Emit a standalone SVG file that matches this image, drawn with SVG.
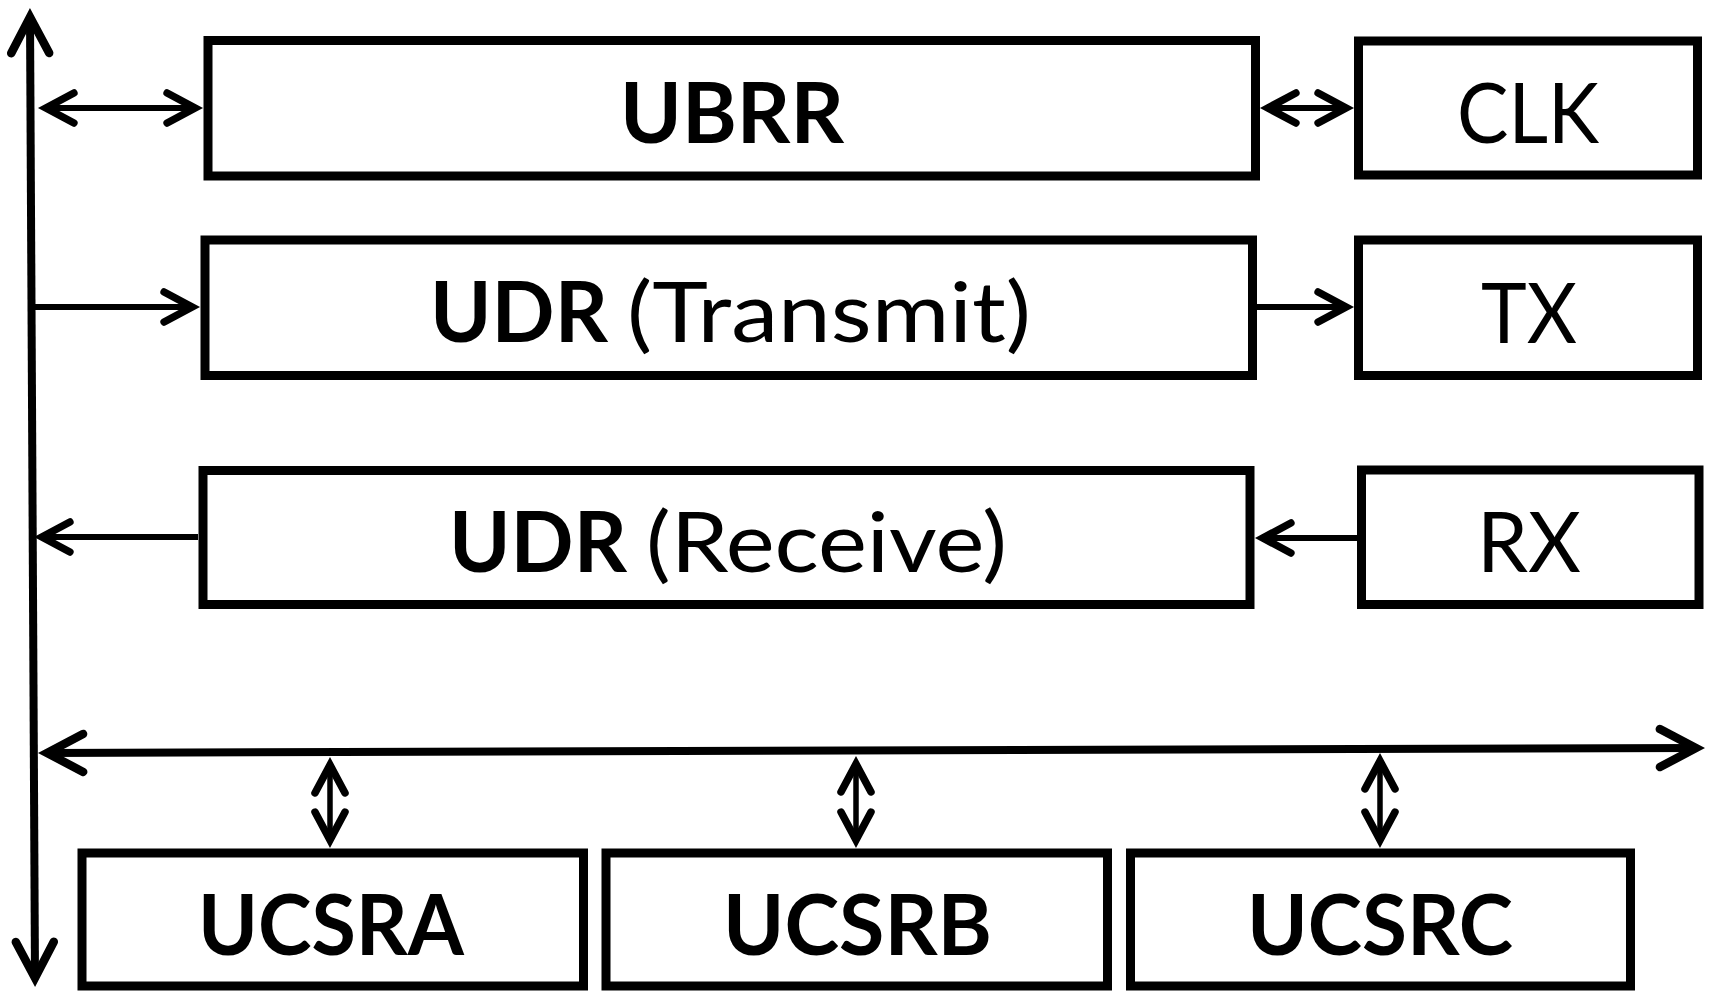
<svg xmlns="http://www.w3.org/2000/svg" width="1715" height="991" viewBox="0 0 1715 991">
  <style>
    .box { fill: #ffffff; stroke: #000000; stroke-width: 9; stroke-linejoin: miter; }
    .lbl { font-family: Lato, "Open Sans", "Liberation Sans", sans-serif; font-size: 84px; fill: #000000; }
    .b { font-weight: 700; }
    .r { font-weight: 400; }
    .bus { fill: none; stroke: #000000; stroke-width: 8; }
    .wire { fill: none; stroke: #000000; stroke-width: 6; }
    .thin { fill: none; stroke: #000000; stroke-width: 5.5; }
  </style>
  <defs>
    <!-- open chevron heads; vertex sits at the marker origin -->
    <marker id="head-sm" markerUnits="userSpaceOnUse" orient="auto-start-reverse" refX="0" refY="0" markerWidth="80" markerHeight="80" viewBox="-40 -40 80 80" overflow="visible">
      <path d="M -28 -15 L 0 0 L -28 15" fill="none" stroke="#000" stroke-width="7.5" stroke-linecap="round" stroke-linejoin="miter"/>
    </marker>
    <marker id="head-lg" markerUnits="userSpaceOnUse" orient="auto-start-reverse" refX="0" refY="0" markerWidth="90" markerHeight="90" viewBox="-45 -45 90 90" overflow="visible">
      <path d="M -36 -19 L 0 0 L -36 19" fill="none" stroke="#000" stroke-width="8.5" stroke-linecap="round" stroke-linejoin="miter"/>
    </marker>
  </defs>

  <rect width="1715" height="991" fill="#ffffff"/>

  <g id="connectors">
    <!-- data bus (vertical) -->
    <line class="bus" x1="30" y1="17.1" x2="35" y2="977.9" marker-start="url(#head-lg)" marker-end="url(#head-lg)"/>
    <!-- control bus (horizontal) -->
    <line class="bus" x1="47.1" y1="753" x2="1695.9" y2="748" marker-start="url(#head-lg)" marker-end="url(#head-lg)"/>
    <!-- bus <-> UBRR -->
    <line class="wire" x1="45.9" y1="108" x2="195.1" y2="108" marker-start="url(#head-sm)" marker-end="url(#head-sm)"/>
    <!-- UBRR <-> CLK -->
    <line class="wire" x1="1267.9" y1="108" x2="1346.1" y2="108" marker-start="url(#head-sm)" marker-end="url(#head-sm)"/>
    <!-- bus -> UDR (Transmit) -->
    <line class="wire" x1="32" y1="307" x2="192.1" y2="307" marker-end="url(#head-sm)"/>
    <!-- UDR (Transmit) -> TX -->
    <line class="wire" x1="1257" y1="307" x2="1346.1" y2="307" marker-end="url(#head-sm)"/>
    <!-- RX -> UDR (Receive) -->
    <line class="wire" x1="1357" y1="538" x2="1262.9" y2="538" marker-end="url(#head-sm)"/>
    <!-- UDR (Receive) -> bus -->
    <line class="wire" x1="198" y1="537" x2="41.9" y2="537" marker-end="url(#head-sm)"/>
    <!-- control bus <-> status registers -->
    <line class="thin" x1="330" y1="764.9" x2="330" y2="840.1" marker-start="url(#head-sm)" marker-end="url(#head-sm)"/>
    <line class="thin" x1="856" y1="763.9" x2="856" y2="840.1" marker-start="url(#head-sm)" marker-end="url(#head-sm)"/>
    <line class="thin" x1="1380" y1="760.9" x2="1380" y2="840.1" marker-start="url(#head-sm)" marker-end="url(#head-sm)"/>
  </g>

  <g id="ubrr">
    <rect class="box" x="208" y="40.5" width="1047.5" height="135.5"/>
    <text class="lbl b" x="620" y="143" textLength="224" lengthAdjust="spacingAndGlyphs">UBRR</text>
  </g>
  <g id="clk">
    <rect class="box" x="1358.5" y="41" width="339" height="134"/>
    <text class="lbl r" x="1457" y="143" textLength="142" lengthAdjust="spacingAndGlyphs">CLK</text>
  </g>

  <g id="udr-transmit">
    <rect class="box" x="205" y="240" width="1047.5" height="135.5"/>
    <text class="lbl" y="342"><tspan class="b" x="430" textLength="178" lengthAdjust="spacingAndGlyphs">UDR</tspan><tspan class="r" x="627" textLength="404" lengthAdjust="spacingAndGlyphs">(Transmit)</tspan></text>
  </g>
  <g id="tx">
    <rect class="box" x="1358.5" y="240" width="339" height="135.5"/>
    <text class="lbl r" x="1481" y="343" textLength="96" lengthAdjust="spacingAndGlyphs">TX</text>
  </g>

  <g id="udr-receive">
    <rect class="box" x="203" y="470.5" width="1047" height="134"/>
    <text class="lbl" y="572"><tspan class="b" x="449" textLength="178" lengthAdjust="spacingAndGlyphs">UDR</tspan><tspan class="r" x="646" textLength="361" lengthAdjust="spacingAndGlyphs">(Receive)</tspan></text>
  </g>
  <g id="rx">
    <rect class="box" x="1361.5" y="470" width="337.5" height="134.5"/>
    <text class="lbl r" x="1477" y="572" textLength="104" lengthAdjust="spacingAndGlyphs">RX</text>
  </g>

  <g id="ucsra">
    <rect class="box" x="82" y="853" width="501.5" height="133"/>
    <text class="lbl b" x="198" y="955" textLength="266" lengthAdjust="spacingAndGlyphs">UCSRA</text>
  </g>
  <g id="ucsrb">
    <rect class="box" x="606" y="853" width="501.5" height="133"/>
    <text class="lbl b" x="723" y="955" textLength="269" lengthAdjust="spacingAndGlyphs">UCSRB</text>
  </g>
  <g id="ucsrc">
    <rect class="box" x="1130.5" y="853" width="500" height="133"/>
    <text class="lbl b" x="1247" y="955" textLength="266" lengthAdjust="spacingAndGlyphs">UCSRC</text>
  </g>
</svg>
